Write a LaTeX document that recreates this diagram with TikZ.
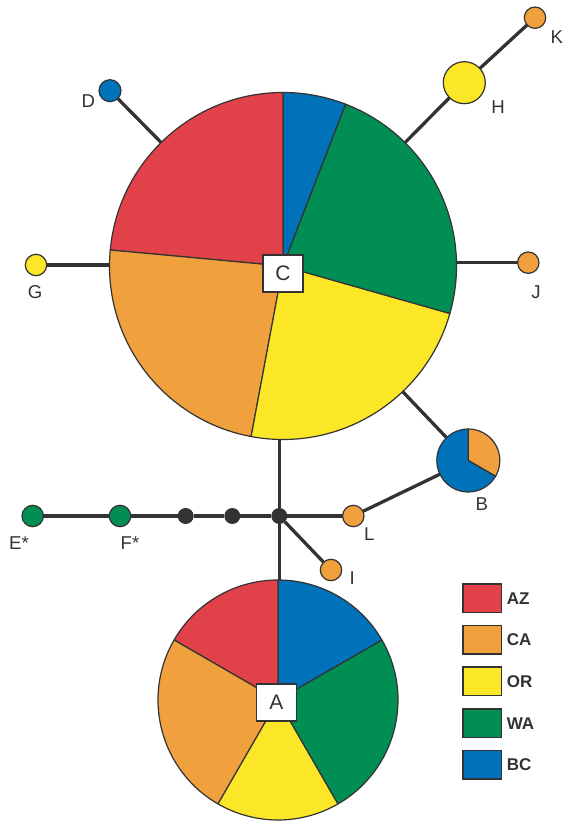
\documentclass[tikz,border=0pt]{standalone}
\usepackage{fontspec}
\setmainfont{Liberation Sans}
\usetikzlibrary{backgrounds}
\definecolor{cAZ}{HTML}{E14148}
\definecolor{cCA}{HTML}{F0A03C}
\definecolor{cOR}{HTML}{FCE628}
\definecolor{cWA}{HTML}{008E54}
\definecolor{cBC}{HTML}{0072B9}
\definecolor{dk}{HTML}{333333}
\newcommand\myslice[5]{% center, radius, start, end, colour
  \filldraw[fill=#5, draw=dk, line width=1.2pt, line join=round]
    (#1) -- ++(#3:#2) arc[start angle=#3, end angle=#4, radius=#2] -- cycle;}
\tikzset{
  hap/.style={circle, draw=dk, line width=1.2pt, inner sep=0pt, outer sep=0pt, minimum size=#1},
  hap/.default=21.4pt,
  blackdot/.style={circle, fill=dk, inner sep=0pt, outer sep=0pt, minimum size=16pt},
  pienode/.style={circle, inner sep=0pt, outer sep=0pt, minimum size=#1},
  link/.style={draw=dk, line width=3.3pt},
  lbl/.style={font=\fontsize{18.6}{20}\selectfont, text=dk, inner sep=0pt},
  boxlbl/.style={draw=dk, fill=white, line width=1.2pt, minimum width=40pt, minimum height=37pt, inner sep=0pt, font=\fontsize{21}{23}\selectfont, text=dk},
  legbox/.style={draw=dk, line width=1.4pt, minimum width=38.4pt, minimum height=28.5pt, inner sep=0pt, anchor=west},
  leglbl/.style={font=\fontsize{17}{19}\selectfont\bfseries, text=dk, anchor=west, inner sep=0pt}
}
\begin{document}
\begin{tikzpicture}[x=1pt,y=1pt]
\useasboundingbox (0,0) rectangle (564,822);
% pie nodes (invisible, for connectors)
\node[pienode=347pt] (C) at (283,556) {};
\node[pienode=240pt] (A) at (278,122) {};
\node[pienode=63pt] (B) at (468.3,361.5) {};
% small haplotypes
\node[hap, fill=cCA] (K) at (535,804.3) {};
\node[hap=42pt, fill=cOR] (H) at (464.3,739.3) {};
\node[hap=22pt, fill=cBC] (D) at (110,731.3) {};
\node[hap, fill=cOR] (G) at (36,557) {};
\node[hap, fill=cCA] (J) at (528.3,559.3) {};
\node[hap, fill=cWA] (E) at (32.7,306) {};
\node[hap, fill=cWA] (F) at (120,306) {};
\node[blackdot] (m1) at (185.7,306) {};
\node[blackdot] (m2) at (232.3,306) {};
\node[blackdot] (jn) at (279.3,306) {};
\node[hap, fill=cCA] (L) at (353.3,306) {};
\node[hap, fill=cCA] (I) at (331,252) {};
% connectors
\begin{pgfonlayer}{background}
\path[link] (K) -- (H);
\path[link] (H) -- (C);
\path[link] (D) -- (C);
\path[link] (G) -- (G -| C.west);
\path[link] (J) -- (J -| C.east);
\path[link] (C) -- (B);
\path[link] (jn) -- (jn |- C.south);
\path[link] (jn) -- (jn |- A.north);
\path[link] (jn) -- (I);
\path[link] (jn) -- (L);
\path[link] (L) -- (B);
\path[link] (E) -- (F);
\path[link] (F) -- (m1);
\path[link] (m1) -- (m2);
\path[link] (m2) -- (jn);
\end{pgfonlayer}
% pie C
\myslice{C.center}{173.5}{68.82}{90}{cBC}
\myslice{C.center}{173.5}{90}{174.71}{cAZ}
\myslice{C.center}{173.5}{174.71}{259.41}{cCA}
\myslice{C.center}{173.5}{259.41}{344.12}{cOR}
\myslice{C.center}{173.5}{344.12}{428.82}{cWA}
\node[boxlbl] (Cb) at (283,548.5) {C};
% pie A
\myslice{A.center}{120}{30}{90}{cBC}
\myslice{A.center}{120}{90}{150}{cAZ}
\myslice{A.center}{120}{150}{240}{cCA}
\myslice{A.center}{120}{240}{300}{cOR}
\myslice{A.center}{120}{300}{390}{cWA}
\node[boxlbl] (Ab) at (276.3,119.5) {A};
% pie B
\myslice{B.center}{31.5}{-30}{90}{cCA}
\myslice{B.center}{31.5}{90}{330}{cBC}
% labels
\node[lbl] (lK) at (556.7,785.3) {K};
\node[lbl] (lH) at (498,715.3) {H};
\node[lbl] (lD) at (88.3,721.3) {D};
\node[lbl] (lG) at (35,530.3) {G};
\node[lbl] (lJ) at (536,530.3) {J};
\node[lbl] (lB) at (481.7,317.7) {B};
\node[lbl] (lE) at (19,279) {E*};
\node[lbl] (lF) at (130,279) {F*};
\node[lbl] (lL) at (369.3,288) {L};
\node[lbl] (lI) at (352.3,244) {I};
% legend
\node[legbox, fill=cAZ] (kAZ) at (462.3,223.6) {};
\node[legbox, fill=cCA] (kCA) at (462.3,182.3) {};
\node[legbox, fill=cOR] (kOR) at (462.3,140.7) {};
\node[legbox, fill=cWA] (kWA) at (462.3,98.7) {};
\node[legbox, fill=cBC] (kBC) at (462.3,57.1) {};
\node[leglbl] at ([xshift=4.5pt]kAZ.east) {AZ};
\node[leglbl] at ([xshift=4.5pt]kCA.east) {CA};
\node[leglbl] at ([xshift=4.5pt]kOR.east) {OR};
\node[leglbl] at ([xshift=4.5pt]kWA.east) {WA};
\node[leglbl] at ([xshift=4.5pt]kBC.east) {BC};
\end{tikzpicture}
\end{document}
